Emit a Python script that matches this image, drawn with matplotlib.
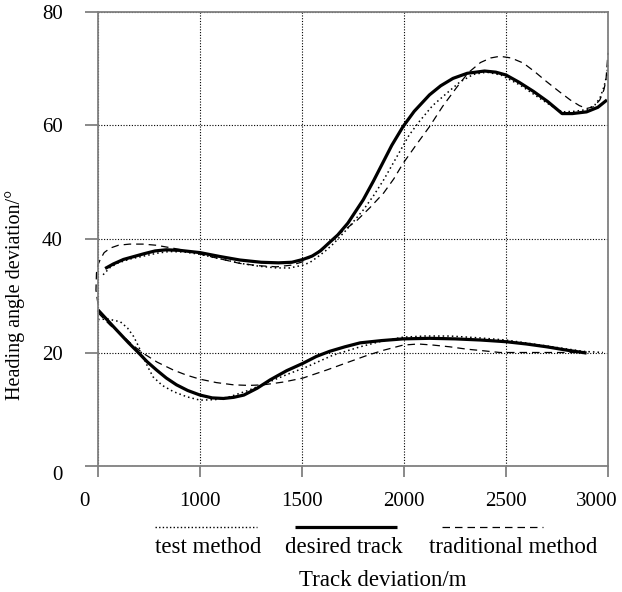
import matplotlib
matplotlib.use('Agg')
import matplotlib.pyplot as plt
from matplotlib.lines import Line2D
from matplotlib.transforms import ScaledTranslation

# ---- axis definitions (x positions are evenly spaced tick slots) ----
x_tick_pos = [0, 1, 2, 3, 4, 5]
x_tick_labels = ['0', '1000', '1500', '2000', '2500', '3000']
y_ticks = [0, 20, 40, 60, 80]
y_tick_labels = ['0', '20', '40', '60', '80']

# ---- desired track (solid) ----
desired_up_x = [0.07, 0.15, 0.25, 0.35, 0.45, 0.56, 0.67, 0.8, 1.0, 1.2, 1.39, 1.6, 1.77, 1.9,
                2.01, 2.1, 2.18, 2.27, 2.35, 2.45, 2.6, 2.7, 2.78, 2.88, 2.99, 3.1, 3.25, 3.36,
                3.48, 3.62, 3.79, 3.9, 4.0, 4.13, 4.27, 4.41, 4.55, 4.65, 4.79, 4.9, 4.99]
desired_up_y = [34.8, 35.6, 36.4, 36.9, 37.4, 37.9, 38.1, 38.0, 37.6, 36.9, 36.3, 35.9, 35.8, 35.9,
                36.4, 37.0, 37.9, 39.4, 40.7, 42.8, 46.9, 50.2, 53.0, 56.5, 59.8, 62.5, 65.4, 67.0,
                68.3, 69.2, 69.6, 69.4, 68.9, 67.6, 66.0, 64.2, 62.1, 62.1, 62.4, 63.2, 64.5]
desired_lo_x = [0.0, 0.18, 0.3, 0.395, 0.48, 0.575, 0.67, 0.77, 0.88, 1.0, 1.12, 1.23, 1.33,
                1.43, 1.56, 1.69, 1.85, 2.01, 2.14, 2.27, 2.42, 2.57, 2.78, 2.99, 3.25, 3.5,
                3.75, 4.0, 4.2, 4.4, 4.6, 4.79]
desired_lo_y = [27.5, 24.0, 21.7, 20.0, 18.4, 16.9, 15.5, 14.3, 13.3, 12.5, 12.0, 11.9, 12.1,
                12.5, 13.7, 15.2, 16.8, 18.1, 19.3, 20.2, 21.0, 21.7, 22.1, 22.4, 22.5, 22.4,
                22.2, 21.9, 21.5, 21.0, 20.4, 19.9]

# ---- test method (dotted) ----
test_up_x = [0.05, 0.12, 0.2, 0.32, 0.45, 0.58, 0.7, 0.85, 1.0, 1.2, 1.4, 1.58, 1.75, 1.88,
             2.01, 2.08, 2.15, 2.23, 2.31, 2.45, 2.6, 2.7, 2.8, 2.93, 3.05, 3.15, 3.28, 3.42,
             3.55, 3.68, 3.81, 3.95, 4.14, 4.33, 4.45, 4.55, 4.67, 4.79, 4.87, 4.92, 4.96,
             4.99, 5.0]
test_up_y = [33.7, 35.0, 35.8, 36.5, 37.0, 37.5, 37.8, 37.7, 37.3, 36.5, 35.7, 35.2, 34.9, 34.9,
             35.4, 35.9, 36.8, 37.9, 39.2, 41.9, 45.1, 47.6, 50.4, 54.5, 58.3, 60.7, 63.5, 65.7,
             67.7, 69.0, 69.4, 68.9, 67.1, 64.8, 63.4, 62.4, 62.5, 62.8, 63.6, 64.8, 66.8,
             69.0, 71.0]
test_lo_x = [0.0, 0.1, 0.22, 0.29, 0.35, 0.4, 0.44, 0.49, 0.54, 0.63, 0.74, 0.87, 1.0, 1.15,
             1.29, 1.47, 1.65, 1.85, 2.05, 2.3, 2.57, 2.78, 2.99, 3.2, 3.45, 3.72, 4.0, 4.38,
             4.76, 4.95]
test_lo_y = [25.8, 25.9, 25.4, 24.3, 22.8, 21.0, 19.3, 17.4, 15.7, 14.2, 13.1, 12.2, 11.6, 11.7,
             12.2, 13.3, 14.6, 16.1, 17.5, 19.5, 21.0, 22.0, 22.7, 22.9, 22.9, 22.6, 22.2, 21.2,
             20.2, 20.0]

# ---- traditional method (dashed) ----
trad_up_x = [0.0, -0.02, -0.015, 0.0, 0.02, 0.06, 0.12, 0.2, 0.31, 0.44, 0.57, 0.73, 0.9,
             1.15, 1.39, 1.57, 1.75, 1.9, 2.01, 2.12, 2.22, 2.33, 2.54, 2.67, 2.8, 2.9, 2.99,
             3.12, 3.25, 3.38, 3.52, 3.63, 3.75, 3.85, 3.94, 4.05, 4.17, 4.28, 4.4, 4.52,
             4.63, 4.72, 4.79, 4.86, 4.92, 4.96, 4.98, 5.0]
trad_up_y = [28.5, 31.0, 34.0, 35.5, 36.3, 37.6, 38.4, 38.9, 39.1, 39.1, 38.9, 38.4, 37.8,
             36.7, 35.7, 35.3, 35.1, 35.4, 36.0, 37.2, 38.7, 40.4, 43.3, 45.6, 48.1, 50.6, 53.3,
             56.6, 59.8, 63.4, 66.8, 69.3, 71.1, 71.9, 72.2, 71.9, 71.0, 69.5, 67.7, 66.0,
             64.5, 63.5, 63.0, 63.3, 64.5, 66.3, 68.0, 72.8]
trad_lo_x = [0.0, 0.12, 0.25, 0.34, 0.44, 0.58, 0.74, 0.87, 1.0, 1.16, 1.33, 1.48, 1.62, 1.82,
             2.01, 2.24, 2.47, 2.64, 2.8, 2.99, 3.14, 3.29, 3.45, 3.61, 3.78, 3.94, 4.35, 4.76]
trad_lo_y = [27.0, 24.8, 22.8, 21.3, 19.9, 18.3, 16.9, 16.0, 15.3, 14.7, 14.3, 14.2, 14.3, 14.8,
             15.5, 16.9, 18.4, 19.5, 20.4, 21.3, 21.5, 21.3, 21.0, 20.6, 20.3, 20.0, 20.0, 20.0]

legend_labels = ['test method', 'desired track', 'traditional method']

plt.rcParams['font.family'] = ['Liberation Serif', 'DejaVu Serif']

W, H = 622, 592
fig = plt.figure(figsize=(W / 100, H / 100), dpi=100)
ax = fig.add_axes([98 / W, 1 - 466 / H, (608 - 98) / W, (466 - 12) / H])

dot_style = dict(color='black', lw=1.1, linestyle=(0, (1, 2)), clip_on=False)
solid_style = dict(color='black', lw=2.3, solid_capstyle='butt', solid_joinstyle='round',
                   clip_on=False)
dash_style = dict(color='black', lw=0.9, linestyle=(0, (6, 4)), clip_on=False)

ax.plot(test_up_x, test_up_y, **dot_style)
ax.plot(test_lo_x, test_lo_y, **dot_style)
ax.plot(trad_up_x, trad_up_y, **dash_style)
ax.plot(trad_lo_x, trad_lo_y, **dash_style)
ax.plot(desired_up_x, desired_up_y, **solid_style)
ax.plot(desired_lo_x, desired_lo_y, **solid_style)

ax.set_xlim(0, 5)
ax.set_ylim(0, 80)
ax.set_xticks(x_tick_pos)
ax.set_xticklabels(x_tick_labels)
ax.set_yticks(y_ticks)
ax.set_yticklabels(y_tick_labels)

ax.grid(True, color='black', lw=0.8, linestyle=(0, (1, 1.5)))
for s in ax.spines.values():
    s.set_color('#808080')
    s.set_linewidth(1.3)
ax.tick_params(axis='x', direction='out', length=8, width=1.3, color='#808080',
               labelsize=15, pad=11)
ax.tick_params(axis='y', direction='out', length=9.5, width=1.3, color='#808080',
               labelsize=15, pad=16)

# shift the end tick labels as in the reference
xl = ax.get_xticklabels()
xl[0].set_transform(xl[0].get_transform() + ScaledTranslation(-14 / 100, 0, fig.dpi_scale_trans))
xl[-1].set_transform(xl[-1].get_transform() + ScaledTranslation(-11 / 100, 0, fig.dpi_scale_trans))
yl = ax.get_yticklabels()
yl[0].set_transform(yl[0].get_transform() + ScaledTranslation(0, -7 / 100, fig.dpi_scale_trans))

# ---- legend (line samples above text) ----
ly = 1 - 527 / H
fig.add_artist(Line2D([155 / W, 257 / W], [ly, ly], transform=fig.transFigure,
                      color='black', lw=1.0, linestyle=(0, (1, 1.6))))
fig.add_artist(Line2D([295 / W, 397 / W], [ly, ly], transform=fig.transFigure,
                      color='black', lw=2.3, solid_capstyle='butt'))
fig.add_artist(Line2D([442 / W, 543 / W], [ly, ly], transform=fig.transFigure,
                      color='black', lw=0.9, linestyle=(0, (6, 4))))
tb = 1 - 553 / H
fig.text(208 / W, tb, legend_labels[0], ha='center', va='baseline', fontsize=16.5)
fig.text(344 / W, tb, legend_labels[1], ha='center', va='baseline', fontsize=16.5)
fig.text(513 / W, tb, legend_labels[2], ha='center', va='baseline', fontsize=16.5)

fig.text(383 / W, 1 - 586 / H, 'Track deviation/m', ha='center', va='baseline', fontsize=16.5)
fig.text(15 / W, 1 - 295 / H, 'Heading angle deviation/°', ha='center', va='center',
         rotation=90, fontsize=14.5)

fig.savefig('out.png', dpi=100)
